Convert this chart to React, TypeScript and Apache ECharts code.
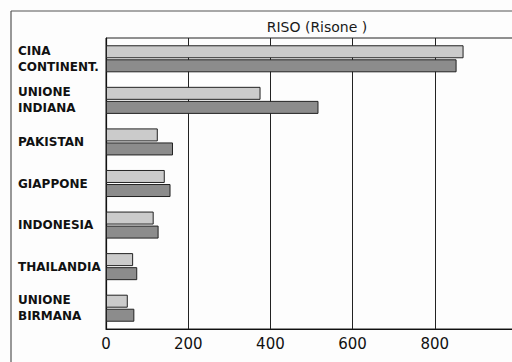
import React, { useEffect, useRef } from "react";
import * as echarts from "echarts";

const categories = [
  "CINA\nCONTINENT.",
  "UNIONE\nINDIANA",
  "PAKISTAN",
  "GIAPPONE",
  "INDONESIA",
  "THAILANDIA",
  "UNIONE\nBIRMANA",
];
const seriesLight = [870, 376, 126, 143, 116, 66, 53];
const seriesDark = [853, 517, 163, 157, 128, 76, 69];
const xTicks = [0, 200, 400, 600, 800];
const title = "RISO (Risone )";

export default function App() {
  const ref = useRef<HTMLDivElement>(null);
  useEffect(() => {
    if (!ref.current) return;
    const chart = echarts.init(ref.current, null, { renderer: "svg" });
    chart.setOption({
      animation: false,
      backgroundColor: "#fdfdfd",
      title: {
        text: title,
        left: 312,
        top: 15,
        textAlign: "center",
        textStyle: { fontFamily: "DejaVu Sans", fontSize: 14, fontWeight: "normal", color: "#1a1a1a" },
      },
      graphic: [
        { type: "line", shape: { x1: 11, y1: 11, x2: 520, y2: 11 }, style: { stroke: "#555", lineWidth: 1.2 } },
        { type: "line", shape: { x1: 11, y1: 11, x2: 11, y2: 362 }, style: { stroke: "#555", lineWidth: 1.2 } },
      ],
      grid: {
        left: 106,
        right: 0,
        top: 38,
        bottom: 33,
        show: true,
        borderColor: "#222",
        borderWidth: 1,
      },
      xAxis: {
        type: "value",
        min: 0,
        max: 1000,
        interval: 200,
        axisLine: { show: true, lineStyle: { color: "#111", width: 1.2 } },
        axisTick: { show: false },
        splitLine: { show: true, lineStyle: { color: "#222", width: 1 } },
        axisLabel: {
          margin: 7,
          fontFamily: "DejaVu Sans",
          fontSize: 15,
          color: "#111",
          formatter: (v: number) => (xTicks.includes(v) ? String(v) : ""),
        },
      },
      yAxis: {
        type: "category",
        data: categories,
        inverse: true,
        axisLine: { show: true, lineStyle: { color: "#111", width: 1.2 } },
        axisTick: { show: false },
        axisLabel: {
          align: "left",
          margin: 88,
          fontFamily: "DejaVu Sans",
          fontWeight: "bold",
          fontSize: 12,
          lineHeight: 16,
          color: "#111",
        },
      },
      series: [
        {
          name: "Serie A",
          type: "bar",
          data: seriesLight,
          barWidth: 13,
          barGap: "8%",
          itemStyle: { color: "#cbcbcb", borderColor: "#222", borderWidth: 1 },
        },
        {
          name: "Serie B",
          type: "bar",
          data: seriesDark,
          barWidth: 13,
          itemStyle: { color: "#8c8c8c", borderColor: "#222", borderWidth: 1 },
        },
      ],
    });
    return () => chart.dispose();
  }, []);
  return (
    <div
      ref={ref}
      style={{ position: "fixed", left: 0, top: 0, width: 520, height: 362 }}
    />
  );
}
